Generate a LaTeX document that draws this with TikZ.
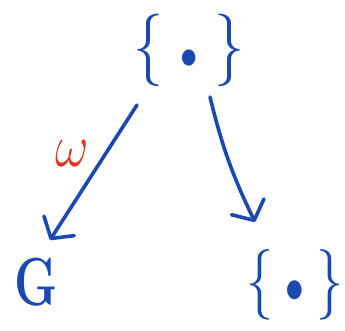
\documentclass[tikz,border=0pt]{standalone}
\usetikzlibrary{arrows.meta}
\definecolor{ink}{RGB}{28,72,178}
\definecolor{redink}{RGB}{226,52,32}
\begin{document}
\begin{tikzpicture}[x=1pt,y=-1pt,
  lbl/.style={text=ink,inner sep=0pt},
  arr/.style={draw=ink,line width=3.6pt,line cap=round,line join=round,
    -{Straight Barb[length=15pt,width=36pt,line width=3.6pt,round]}}]
\useasboundingbox (0,0) rectangle (345,330);
\node[lbl,xscale=2.9,yscale=3.5] (top) at (189,50) {\huge $\{\mkern5mu{\scriptscriptstyle\bullet}\mkern5mu\}$};
\node[lbl,xscale=0.72] (G) at (36,282) {\fontsize{68}{68}\selectfont\bfseries G};
\node[lbl,xscale=2.6,yscale=3.4] (bot) at (295,285) {\huge $\{\mkern4mu{\scriptstyle\bullet}\mkern4mu\}$};
\node[text=redink,inner sep=0pt,xscale=2.5,yscale=2.9] (w) at (72,154) {\huge $\omega$};
\draw[arr] ([shift={(-52,55)}]top.center) -- ([shift={(14,-42)}]G.center);
\draw[arr] ([shift={(21,47)}]top.center) to[bend right=6] ([shift={(-40,-63)}]bot.center);
\end{tikzpicture}
\end{document}
